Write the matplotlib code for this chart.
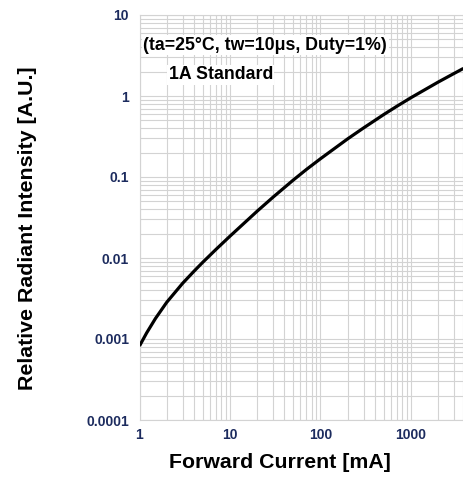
import matplotlib.pyplot as plt
from matplotlib.ticker import FixedLocator, LogLocator, NullFormatter

plt.rcParams['font.family'] = ['Liberation Sans', 'DejaVu Sans']

# Forward current [mA] and relative radiant intensity
corrente = [1, 1.2, 1.5, 2, 3, 4, 5, 7, 10, 20, 30, 50, 70, 100, 200, 300, 500, 700,
            1000, 2000, 3000, 3800]
intensidade = [0.00082, 0.00119, 0.00179, 0.00284, 0.00488, 0.00686, 0.00885, 0.01276,
               0.0186, 0.0379, 0.0565, 0.0916, 0.124, 0.168, 0.296, 0.404, 0.59, 0.748,
               0.953, 1.486, 1.90, 2.19]

xticks = [1, 10, 100, 1000]
xticklabels = ['1', '10', '100', '1000']
yticks = [0.0001, 0.001, 0.01, 0.1, 1, 10]
yticklabels = ['0.0001', '0.001', '0.01', '0.1', '1', '10']

cor_tick = '#1c2b5e'
cor_grade = '#d3d3d3'

fig = plt.figure(figsize=(4.63, 4.84), dpi=100)
ax = fig.add_axes([139.5 / 463, 1 - 420 / 484, 1 - 139.5 / 463, (420 - 15) / 484])
ax.set_xscale('log')
ax.set_yscale('log')
ax.set_xlim(1, 3760)
ax.set_ylim(0.0001, 10)

ax.plot(corrente, intensidade, color='black', linewidth=2.3, solid_capstyle='butt', zorder=3)

ax.xaxis.set_major_locator(FixedLocator(xticks))
ax.set_xticklabels(xticklabels)
ax.yaxis.set_major_locator(FixedLocator(yticks))
ax.set_yticklabels(yticklabels)
ax.xaxis.set_minor_locator(LogLocator(base=10, subs=range(2, 10), numticks=20))
ax.yaxis.set_minor_locator(LogLocator(base=10, subs=range(2, 10), numticks=20))
ax.xaxis.set_minor_formatter(NullFormatter())
ax.yaxis.set_minor_formatter(NullFormatter())

ax.grid(True, which='both', color=cor_grade, linewidth=0.8)
ax.set_axisbelow(True)
ax.tick_params(which='both', length=0)
ax.tick_params(axis='x', pad=5.5)
ax.tick_params(axis='y', pad=7.5)
for lab in ax.get_xticklabels() + ax.get_yticklabels():
    lab.set_fontsize(10)
    lab.set_fontweight('bold')
    lab.set_color(cor_tick)
for s in ax.spines.values():
    s.set_color(cor_grade)
    s.set_linewidth(0.8)

ax.text(0.012, 0.925, '(ta=25°C, tw=10μs, Duty=1%)', transform=ax.transAxes,
        fontsize=12.8, fontweight='bold', va='center', ha='left',
        bbox=dict(facecolor='white', edgecolor='none', pad=1), zorder=4)
ax.text(0.09, 0.852, '1A Standard', transform=ax.transAxes,
        fontsize=12.8, fontweight='bold', va='center', ha='left',
        bbox=dict(facecolor='white', edgecolor='none', pad=1), zorder=4)

fig.text(280 / 463, 1 - 463 / 484, 'Forward Current [mA]', fontsize=15.3, fontweight='bold',
         ha='center', va='center')
fig.text(28 / 463, 1 - 228 / 484, 'Relative Radiant Intensity [A.U.]', fontsize=15.4,
         fontweight='bold', ha='center', va='center', rotation=90)

plt.savefig('out.png', dpi=100)
